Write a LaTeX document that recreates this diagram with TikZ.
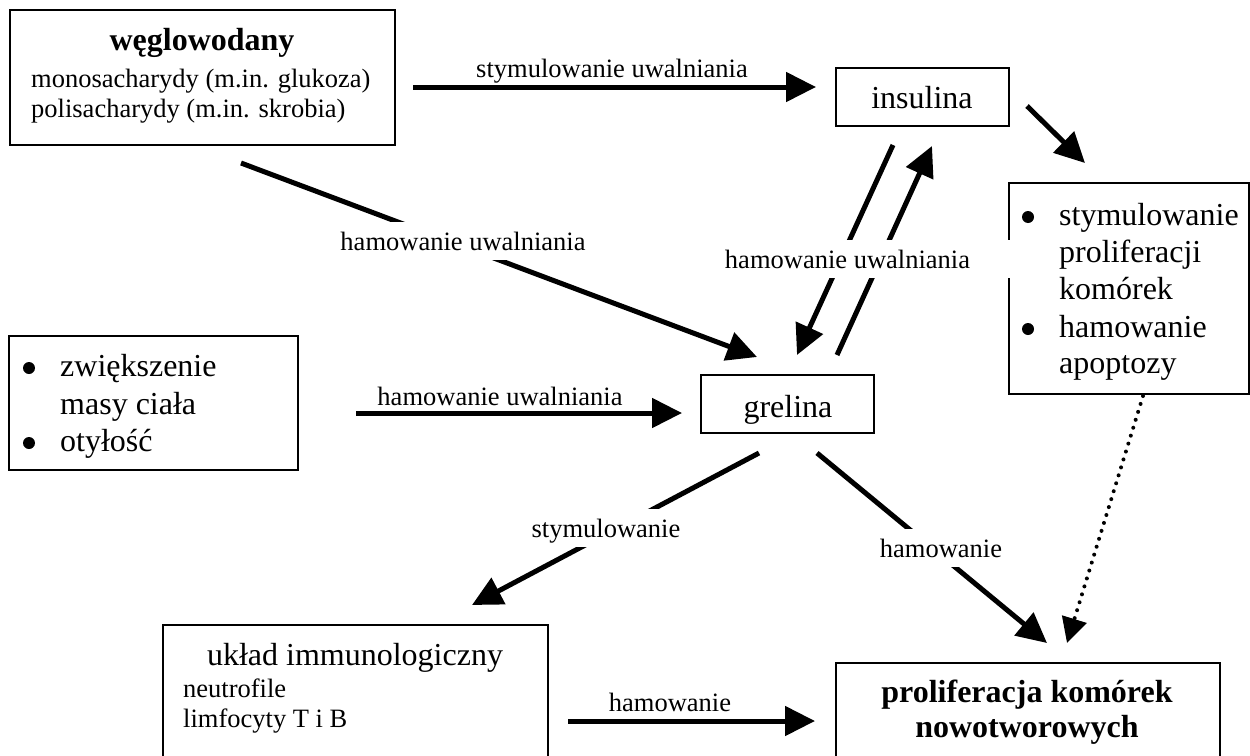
\documentclass[tikz,border=0pt]{standalone}
\usepackage{fontspec}
\setmainfont{Liberation Serif}
\usetikzlibrary{arrows.meta}
\newcommand\smallfnt{\fontsize{26.5}{30.5}\selectfont}
\newcommand\bigfnt{\fontsize{32}{37}\selectfont}
\tikzset{
  boxnode/.style={draw, line width=1.8pt, inner sep=0pt, outer sep=0pt, anchor=north west},
  arr/.style={line width=5pt, -{Triangle[length=30pt,width=29pt]}},
  dotarr/.style={line width=4pt, line cap=round, dash pattern=on 0pt off 8.3pt, -{Triangle[length=25pt,width=25pt]}},
  lbl/.style={fill=white, anchor=base, text height=18.5pt, text depth=0pt, inner xsep=10pt, inner ysep=10pt, font=\smallfnt},
  smalltxt/.style={anchor=base, inner sep=0pt, font=\smallfnt},
  smallleft/.style={anchor=base west, inner sep=0pt, font=\smallfnt},
  bigtxt/.style={anchor=base, inner sep=0pt, font=\bigfnt},
  bigleft/.style={anchor=base west, inner sep=0pt, font=\bigfnt},
  bulletdot/.style={circle, fill=black, inner sep=0pt, minimum size=12pt},
}
\begin{document}
\begin{tikzpicture}[x=1pt,y=-1pt]
\useasboundingbox[fill=white] (0,0) rectangle (1250,755);

% boxes
\node[boxnode, minimum width=385pt, minimum height=135pt] (wegl) at (10,10) {};
\node[boxnode, minimum width=173pt, minimum height=58pt] (ins) at (836,68) {};
\node[boxnode, minimum width=240pt, minimum height=211pt] (prol) at (1009,183) {};
\node[boxnode, minimum width=289pt, minimum height=134pt] (masa) at (9,336) {};
\node[boxnode, minimum width=173pt, minimum height=58pt] (grel) at (701,375) {};
\node[boxnode, minimum width=385pt, minimum height=155pt] (imm) at (163,625) {};
\node[boxnode, minimum width=384pt, minimum height=117pt] (nowo) at (836,663) {};

% texts: weglowodany
\node[bigtxt, font=\bigfnt\bfseries] (t1) at (202,50) {węglowodany};
\node[smallleft] (t2) at (31,87) {monosacharydy (m.in. glukoza)};
\node[smallleft] (t3) at (31,117) {polisacharydy (m.in. skrobia)};
% insulina, grelina
\node[bigtxt] (t4) at (922,108) {insulina};
\node[bigtxt] (t5) at (788,417) {grelina};
% right box
\node[bulletdot] (b1) at (1028,217) {};
\node[bigleft] (t6) at (1059,225) {stymulowanie};
\node[bigleft] (t7) at (1059,262) {proliferacji};
\node[bigleft] (t8) at (1059,299) {komórek};
\node[bulletdot] (b2) at (1028,329) {};
\node[bigleft] (t9) at (1059,337) {hamowanie};
\node[bigleft] (t10) at (1059,373) {apoptozy};
% masa ciala
\node[bulletdot] (b3) at (29,368) {};
\node[bigleft] (t11) at (60,376) {zwiększenie};
\node[bigleft] (t12) at (60,414) {masy ciała};
\node[bulletdot] (b4) at (29,443) {};
\node[bigleft] (t13) at (60,451) {otyłość};
% immuno
\node[bigtxt] (t14) at (355,665) {układ immunologiczny};
\node[smallleft] (t15) at (183,697) {neutrofile};
\node[smallleft] (t16) at (183,727) {limfocyty T i B};
% bottom
\node[bigtxt, font=\bigfnt\bfseries] (t17) at (1027,702) {proliferacja komórek};
\node[bigtxt, font=\bigfnt\bfseries] (t18) at (1027,737) {nowotworowych};

% connector end points
\coordinate (wi1) at (413,87);   \coordinate (wi2) at (816,87);
\coordinate (ip1) at (1027,106); \coordinate (ip2) at (1085,163);
\coordinate (ig1) at (893,145);  \coordinate (ig2) at (797,355);
\coordinate (gi1) at (837,355);  \coordinate (gi2) at (932,146);
\coordinate (wg1) at (241,163);  \coordinate (wg2) at (757,357);
\coordinate (mg1) at (356,413);  \coordinate (mg2) at (682,413);
\coordinate (gm1) at (759,453);  \coordinate (gm2) at (472,605);
\coordinate (gn1) at (817,453);  \coordinate (gn2) at (1047,643);
\coordinate (pn1) at (1143,396); \coordinate (pn2) at (1067,643);
\coordinate (in1) at (568,721);  \coordinate (in2) at (815,721);

% connectors
\draw[arr] (wi1) -- (wi2);
\draw[arr] (ip1) -- (ip2);
\draw[arr] (ig1) -- (ig2);
\draw[arr] (gi1) -- (gi2);
\draw[arr] (wg1) -- (wg2);
\draw[arr] (mg1) -- (mg2);
\draw[arr] (gm1) -- (gm2);
\draw[arr] (gn1) -- (gn2);
\draw[dotarr] (pn1) -- (pn2);
\draw[arr] (in1) -- (in2);

% labels
\node[smalltxt] (l1) at (612,77) {stymulowanie uwalniania};
\node[smalltxt] (l2) at (500,405) {hamowanie uwalniania};
\node[smalltxt] (l3) at (670,711) {hamowanie};
\node[lbl] (l4) at (463,250) {hamowanie uwalniania};
\node[lbl, minimum width=330pt] (l5) at (847.5,268) {hamowanie uwalniania};
\node[lbl] (l6) at (606,537) {stymulowanie};
\node[lbl] (l7) at (941,557) {hamowanie};
\end{tikzpicture}
\end{document}
